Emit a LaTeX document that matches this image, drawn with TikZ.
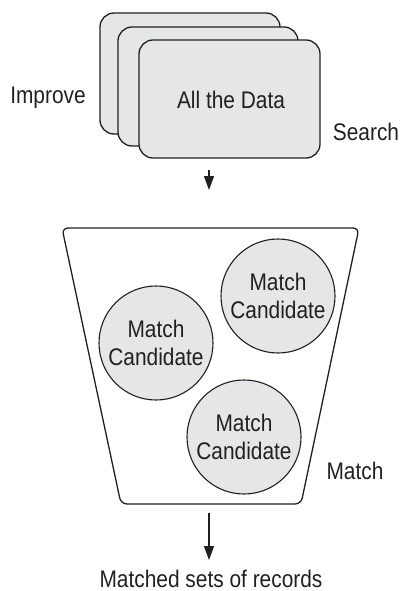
\documentclass[tikz,border=0pt]{standalone}
\usepackage{fontspec}
\setmainfont{Liberation Sans}[FakeStretch=0.87]
\usetikzlibrary{arrows.meta}
\definecolor{cardfill}{RGB}{229,230,232}
\definecolor{ink}{RGB}{35,31,32}
\begin{document}
\begin{tikzpicture}[x=1pt,y=-1pt,
  lbl/.style={font=\fontsize{24}{28}\selectfont, text=ink, inner sep=0pt, anchor=base},
  card/.style={draw=ink, line width=1.3pt, fill=cardfill, rounded corners=14pt},
  cand/.style={circle, draw=ink, line width=1.1pt, fill=cardfill, minimum size=114pt, inner sep=0pt,
     align=center, text=ink, font=\fontsize{24}{28}\selectfont},
  flow/.style={draw=ink, line width=1.3pt, -{Triangle[width=10pt,length=14pt]}}]
\useasboundingbox (0,0) rectangle (403,591);
% stacked cards
\draw[card] (100,13) rectangle (280,134);
\draw[card] (118,27) rectangle (298,146);
\draw[card] (139,40) rectangle (320,158);
\node[lbl] (data) at (231,109) {All the Data};
\node[lbl] (improve) at (48,104) {Improve};
\node[lbl] (search) at (366,140) {Search};
% arrow to funnel
\coordinate (a1s) at (209,170);
\coordinate (a1e) at (209,190);
\draw[flow] (a1s) -- (a1e);
% funnel
\draw[draw=ink, line width=1.3pt, rounded corners=6pt] (62,228) -- (359,228) -- (301,504) -- (121,504) -- cycle;
\node[cand] (c1) at (278,296) {Match\\Candidate};
\node[cand] (c2) at (156,343) {Match\\Candidate};
\node[cand] (c3) at (244,437) {Match\\Candidate};
\node[lbl] (match) at (355,479) {Match};
% output arrow
\coordinate (a2s) at (209,513);
\coordinate (a2e) at (209,560);
\draw[flow] (a2s) -- (a2e);
\node[lbl] (out) at (211,587) {Matched sets of records};
\end{tikzpicture}
\end{document}
